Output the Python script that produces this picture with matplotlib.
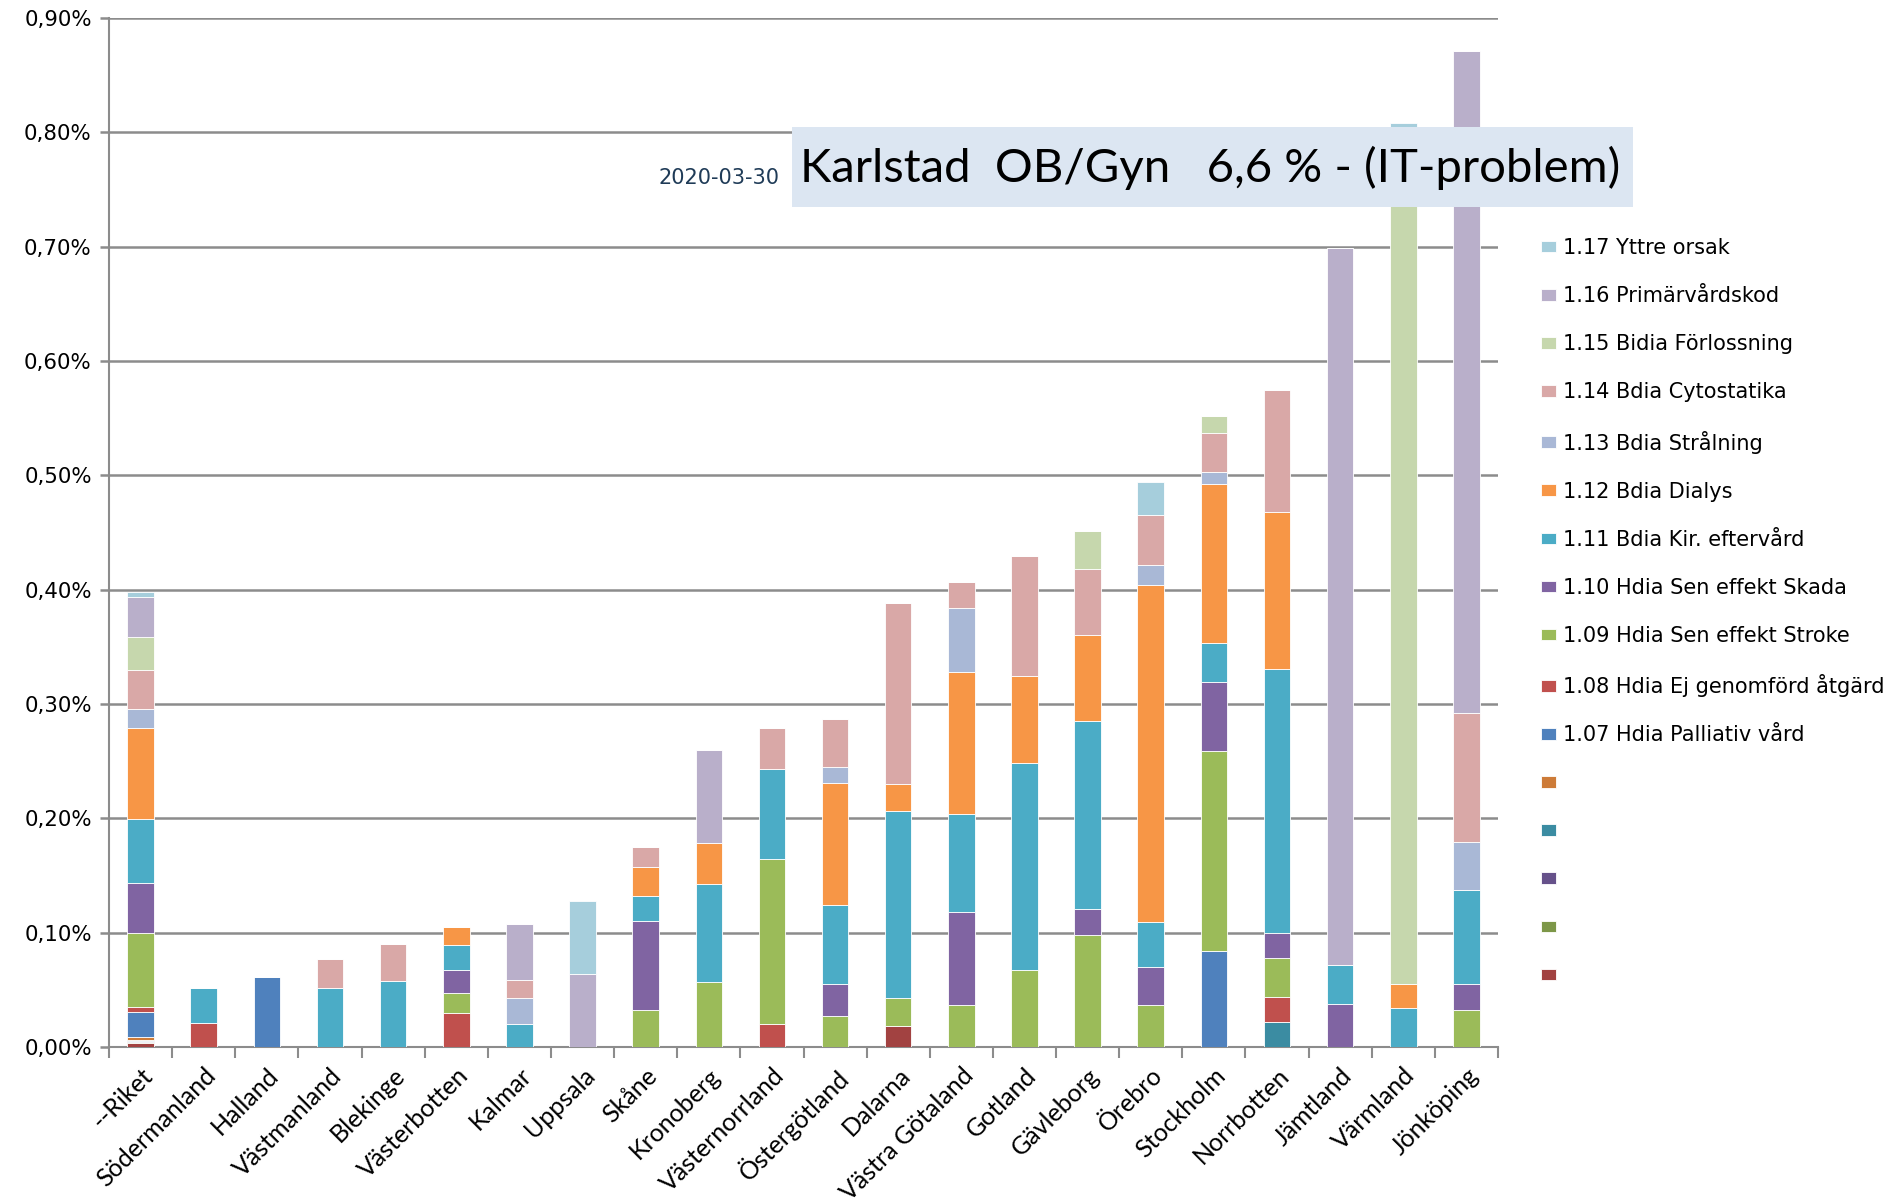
import numpy as np
from matplotlib import pyplot as plt
from matplotlib.patches import Rectangle
from matplotlib.ticker import FuncFormatter, MultipleLocator

regions = ['--Riket', 'Södermanland', 'Halland', 'Västmanland', 'Blekinge', 'Västerbotten',
           'Kalmar', 'Uppsala', 'Skåne', 'Kronoberg', 'Västernorrland', 'Östergötland',
           'Dalarna', 'Västra Götaland', 'Gotland', 'Gävleborg', 'Örebro', 'Stockholm',
           'Norrbotten', 'Jämtland', 'Värmland', 'Jönköping']

# values in percent, one list per series (bottom of the stack first)
extra_red    = [0.0035, 0, 0, 0, 0, 0, 0, 0, 0, 0, 0, 0, 0.018, 0, 0, 0, 0, 0, 0, 0, 0, 0]
extra_green  = [0.0005, 0, 0, 0, 0, 0, 0, 0, 0, 0, 0, 0, 0, 0, 0, 0, 0, 0, 0, 0, 0, 0]
extra_purple = [0.001, 0, 0, 0, 0, 0, 0, 0, 0, 0, 0, 0, 0, 0, 0, 0, 0, 0, 0, 0, 0, 0]
extra_teal   = [0.001, 0, 0, 0, 0, 0, 0, 0, 0, 0, 0, 0, 0, 0, 0, 0, 0, 0, 0.022, 0, 0, 0]
extra_orange = [0.003, 0, 0, 0, 0, 0, 0, 0, 0, 0, 0, 0, 0, 0, 0, 0, 0, 0, 0, 0, 0, 0]
h107 = [0.022, 0, 0.061, 0, 0, 0, 0, 0, 0, 0, 0, 0, 0, 0, 0, 0, 0, 0.084, 0, 0, 0, 0]
h108 = [0.0044, 0.021, 0, 0, 0, 0.0296, 0, 0, 0, 0, 0.020, 0, 0, 0, 0, 0, 0, 0, 0.022, 0, 0, 0]
h109 = [0.064, 0, 0, 0, 0, 0.018, 0, 0, 0.032, 0.057, 0.144, 0.0275, 0.025, 0.037, 0.0677,
        0.098, 0.037, 0.175, 0.034, 0, 0, 0.0325]
h110 = [0.0444, 0, 0, 0, 0, 0.020, 0, 0, 0.078, 0, 0, 0.0275, 0, 0.081, 0, 0.023, 0.033,
        0.060, 0.022, 0.038, 0, 0.023]
b111 = [0.056, 0.031, 0, 0.052, 0.058, 0.022, 0.020, 0, 0.022, 0.086, 0.079, 0.069, 0.163,
        0.086, 0.181, 0.164, 0.039, 0.034, 0.231, 0.034, 0.034, 0.082]
b112 = [0.079, 0, 0, 0, 0, 0.015, 0, 0, 0.025, 0.035, 0, 0.107, 0.024, 0.124, 0.076, 0.075,
        0.295, 0.139, 0.137, 0, 0.021, 0]
b113 = [0.017, 0, 0, 0, 0, 0, 0.023, 0, 0, 0, 0, 0.014, 0, 0.056, 0, 0, 0.018, 0.011, 0, 0, 0, 0.042]
b114 = [0.034, 0, 0, 0.025, 0.032, 0, 0.016, 0, 0.018, 0, 0.036, 0.042, 0.158, 0.023, 0.105,
        0.058, 0.043, 0.034, 0.107, 0, 0, 0.113]
b115 = [0.029, 0, 0, 0, 0, 0, 0, 0, 0, 0, 0, 0, 0, 0, 0, 0.033, 0, 0.015, 0, 0, 0.745, 0]
p116 = [0.0345, 0, 0, 0, 0, 0, 0.049, 0.0635, 0, 0.082, 0, 0, 0, 0, 0, 0, 0, 0, 0, 0.627, 0, 0.579]
y117 = [0.005, 0, 0, 0, 0, 0, 0, 0.0645, 0, 0, 0, 0, 0, 0, 0, 0, 0.029, 0, 0, 0, 0.008, 0]

series = [extra_red, extra_green, extra_purple, extra_teal, extra_orange,
          h107, h108, h109, h110, b111, b112, b113, b114, b115, p116, y117]
labels = ['', '', '', '', '',
          '1.07 Hdia Palliativ vård', '1.08 Hdia Ej genomförd åtgärd',
          '1.09 Hdia Sen effekt Stroke', '1.10 Hdia Sen effekt Skada',
          '1.11 Bdia Kir. eftervård', '1.12 Bdia Dialys', '1.13 Bdia Strålning',
          '1.14 Bdia Cytostatika', '1.15 Bidia Förlossning', '1.16 Primärvårdskod',
          '1.17 Yttre orsak']
colors = ['#A24241', '#7D9748', '#66518A', '#3B8CA2', '#CD7B38',
          '#4F81BD', '#C0504D', '#9BBB59', '#8064A2', '#4BACC6', '#F79646',
          '#A9B8D6', '#D9A8A7', '#C6D7AD', '#B9AFCA', '#A6CEDC']

plt.rcParams['font.family'] = ['Lato', 'DejaVu Sans']
fig = plt.figure(figsize=(18.97, 12.02), dpi=100)
ax = fig.add_axes([109 / 1897, 1 - 1047 / 1202, (1498 - 109) / 1897, (1047 - 18) / 1202])

x = np.arange(len(regions))
bottom = np.zeros(len(regions))
handles = []
for vals, col in zip(series, colors):
    vals = np.array(vals)
    b = ax.bar(x, vals, 0.42, bottom=bottom, color=col, edgecolor='#ffffff', linewidth=0.6, zorder=3)
    handles.append(b)
    bottom += vals

ax.set_xlim(-0.5, len(regions) - 0.5)
ax.set_ylim(0, 0.9)
ax.yaxis.set_major_locator(MultipleLocator(0.1))
ax.yaxis.set_major_formatter(FuncFormatter(lambda v, p: f'{v:.2f}%'.replace('.', ',')))
ax.grid(axis='y', color='#8C8C8C', linewidth=1.8, zorder=0)
for s in ['top', 'right']:
    ax.spines[s].set_visible(False)
for s in ['left', 'bottom']:
    ax.spines[s].set_color('#8C8C8C')
    ax.spines[s].set_linewidth(1.5)
ax.tick_params(axis='y', length=6.5, width=1.8, color='#8C8C8C', pad=6)
for t in ax.get_yticklabels():
    t.set_fontfamily('DejaVu Sans')
    t.set_fontsize(15.3)

ax.set_xticks(x)
ax.set_xticklabels(regions, rotation=45, ha='right', rotation_mode='anchor', fontsize=18)
ax.set_xticks(np.arange(-0.5, len(regions)), minor=True)
ax.tick_params(axis='x', which='major', length=0, pad=12)
ax.tick_params(axis='x', which='minor', length=8, width=1.5, color='#8C8C8C')

leg_h = handles[::-1]
leg_l = labels[::-1]
fig.legend(leg_h, leg_l, loc='upper left', bbox_to_anchor=(1541 / 1897, 1 - 238 / 1202),
           frameon=False, prop={'family': 'DejaVu Sans', 'size': 15},
           handlelength=0.72, handleheight=0.48, handletextpad=0.34,
           labelspacing=1.35, borderpad=0, borderaxespad=0)

# annotation box
fig.patches.append(Rectangle((792 / 1897, 1 - 207 / 1202), 841 / 1897, 80 / 1202,
                             transform=fig.transFigure, facecolor='#DCE6F2', edgecolor='none', zorder=5))
fig.text(1210 / 1897, 1 - 168 / 1202, 'Karlstad  OB/Gyn   6,6 % - (IT-problem)',
         ha='center', va='center', fontsize=34, color='black', zorder=6)
fig.text(780 / 1897, 1 - 178 / 1202, '2020-03-30', ha='right', va='center', fontsize=15,
         color='#1F3B57', family=['Liberation Sans Narrow', 'DejaVu Sans'], zorder=6)

fig.savefig('out.png', dpi=100)
